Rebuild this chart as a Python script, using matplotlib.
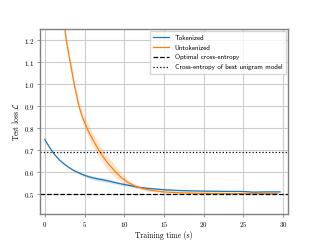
import numpy as np
import matplotlib
matplotlib.use("Agg")
import matplotlib.pyplot as plt

plt.rcParams['font.family'] = 'serif'
plt.rcParams['font.serif'] = ['cmr10']
plt.rcParams['mathtext.fontset'] = 'cm'
plt.rcParams['axes.formatter.use_mathtext'] = True

# Tokenized run (mean and spread)
tok_t = [0.0, 0.4, 0.84, 1.3, 1.9, 2.6, 3.6, 4.3, 5.0, 5.8, 6.5, 7.3, 8.2, 9.0, 9.9, 10.7, 11.6, 13.0, 14.9, 17.0, 19.1, 21.0, 23.3, 24.8, 26.2, 28.0, 29.6]
tok_m = [0.749, 0.725, 0.700, 0.678, 0.654, 0.633, 0.609, 0.597, 0.586, 0.577, 0.571, 0.566, 0.559, 0.552, 0.545, 0.540, 0.533, 0.527, 0.521, 0.517, 0.515, 0.514, 0.513, 0.513, 0.510, 0.511, 0.511]
tok_s = [0.002, 0.002, 0.002, 0.002, 0.002, 0.003, 0.004, 0.005, 0.006, 0.008, 0.009, 0.009, 0.008, 0.007, 0.006, 0.005, 0.004, 0.003, 0.003, 0.003, 0.002, 0.002, 0.002, 0.002, 0.002, 0.002, 0.002]

# Untokenized run (mean and spread)
unt_t = [2.3, 2.7, 3.2, 3.7, 4.3, 4.8, 5.5, 6.2, 6.8, 7.4, 8.0, 8.95, 9.7, 10.5, 11.5, 12.5, 13.5, 14.9, 17.0, 19.1, 21.0, 23.3, 26.2, 29.3]
unt_m = [1.32, 1.20, 1.10, 1.00, 0.90, 0.845, 0.785, 0.738, 0.700, 0.668, 0.638, 0.600, 0.574, 0.553, 0.535, 0.524, 0.517, 0.511, 0.507, 0.505, 0.504, 0.503, 0.503, 0.503]
unt_s = [0.020, 0.020, 0.020, 0.020, 0.022, 0.025, 0.028, 0.030, 0.031, 0.031, 0.030, 0.025, 0.019, 0.013, 0.008, 0.006, 0.005, 0.004, 0.003, 0.003, 0.002, 0.002, 0.002, 0.002]

optimal = 0.5
unigram = 0.693

tok_m, tok_s = np.array(tok_m), np.array(tok_s)
unt_m, unt_s = np.array(unt_m), np.array(unt_s)

fig = plt.figure(figsize=(3.2, 2.4), dpi=100)
ax = fig.add_axes([0.125, 0.108, 0.775, 0.77])

ax.fill_between(tok_t, tok_m - tok_s, tok_m + tok_s, color='#1f77b4', alpha=0.2, lw=0)
ax.plot(tok_t, tok_m, color='#1f77b4', lw=0.9, label='Tokenized')
ax.fill_between(unt_t, unt_m - unt_s, unt_m + unt_s, color='#ff7f0e', alpha=0.2, lw=0)
ax.plot(unt_t, unt_m, color='#ff7f0e', lw=0.9, label='Untokenized')
ax.axhline(optimal, color='black', ls='--', lw=0.9, label='Optimal cross-entropy')
ax.axhline(unigram, color='black', ls=':', lw=0.9, label='Cross-entropy of best unigram model')

ax.set_xlim(-0.6, 30.6)
ax.set_ylim(0.41, 1.25)
ax.set_xticks([0, 5, 10, 15, 20, 25, 30])
ax.set_yticks([0.5, 0.6, 0.7, 0.8, 0.9, 1.0, 1.1, 1.2])
ax.grid(True, color='#cccccc', lw=0.8)
ax.set_axisbelow(True)
for s in ax.spines.values():
    s.set_color('#808080')
    s.set_linewidth(1.0)
ax.tick_params(labelsize=5, length=2, width=0.6, colors='#808080', labelcolor='black', pad=2)
ax.set_xlabel('Training time (s)', fontsize=5.5, labelpad=2)
ax.set_ylabel(r'Test loss $\mathcal{L}$', fontsize=5.5, labelpad=2)
ax.legend(loc='upper right', prop={'family': 'cmss10', 'size': 5}, framealpha=0.8,
          fancybox=False, edgecolor='#cccccc', handlelength=2.3, borderpad=0.5,
          labelspacing=0.55, borderaxespad=0.3)

fig.savefig('out.png', dpi=100)
